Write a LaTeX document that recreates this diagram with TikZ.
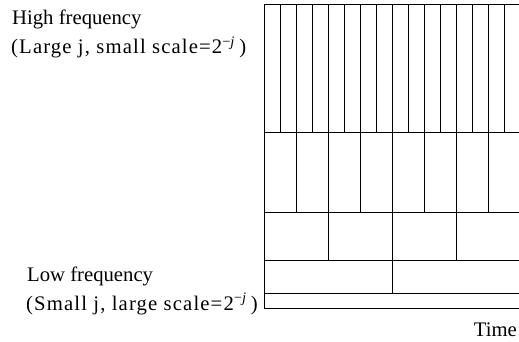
\documentclass[tikz,border=0pt]{standalone}
\usepackage{fontspec}
\setmainfont{Liberation Serif}
\newfontfamily\widefont[LetterSpace=5.5]{Liberation Serif}
\usetikzlibrary{math}

\tikzset{
  tile/.style={line width=0.9bp},
  lbl/.style={inner sep=0pt, font=\fontsize{20.7bp}{24bp}\selectfont},
  sublbl/.style={lbl, font=\fontsize{20.7bp}{24bp}\widefont}
}

\begin{document}
\begin{tikzpicture}[x=1bp,y=1bp]
\tikzmath{
\xl=264;
\xr=521;
}
\useasboundingbox (0,0) rectangle (519,341);
\clip (0,0) rectangle (519,341);

% rows of the tiling, top to bottom
\draw[tile] (\xl,33) -- (\xl,337);
\draw[tile] (\xl,337) -- (\xr,337);
\draw[tile] (\xl,209) -- (\xr,209);
\draw[tile] (\xl,129) -- (\xr,129);
\draw[tile] (\xl,81) -- (\xr,81);
\draw[tile] (\xl,48) -- (\xr,48);
\draw[tile] (\xl,33) -- (\xr,33);

\foreach \k in {1,...,15}
  \draw[tile] (\xl+16*\k,209) -- (\xl+16*\k,337);
\foreach \k in {1,...,7}
  \draw[tile] (\xl+32*\k,129) -- (\xl+32*\k,209);
\foreach \k in {1,...,3}
  \draw[tile] (\xl+64*\k,81) -- (\xl+64*\k,129);
\draw[tile] (\xl+128,48) -- (\xl+128,81);

\node[lbl, anchor=base west] (hf) at (12,316.5) {High frequency};
\node[sublbl, anchor=base west] (hfs) at (11,287.5) {(Large j, small scale=2\textsuperscript{−\textit{j}}\,)};
\node[lbl, anchor=base west] (lf) at (27,60) {Low frequency};
\node[sublbl, anchor=base west] (lfs) at (26,31) {(Small j, large scale=2\textsuperscript{−\textit{j}}\,)};
\node[lbl, anchor=base east] (time) at (517,5) {Time};
\end{tikzpicture}
\end{document}
